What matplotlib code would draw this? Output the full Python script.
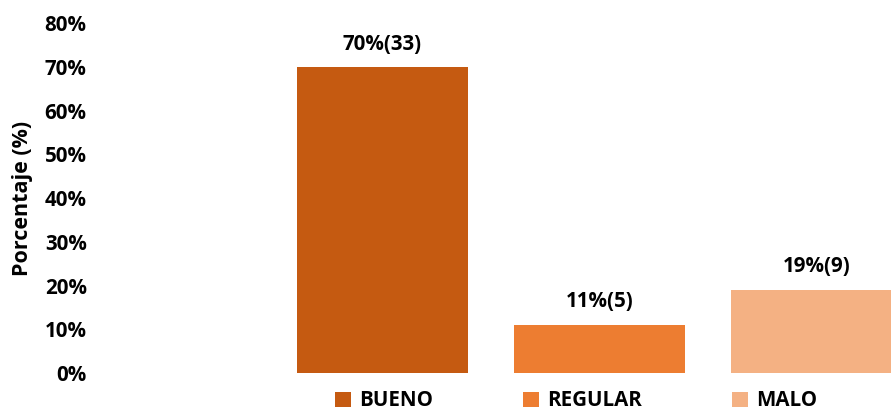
import matplotlib
matplotlib.use("Agg")
import matplotlib.pyplot as plt
from matplotlib.patches import Patch
from matplotlib.ticker import PercentFormatter

categories = ["BUENO", "REGULAR", "MALO"]
percentages = [0.70, 0.11, 0.19]
counts = [33, 5, 9]
colors = ["#C55A11", "#ED7D31", "#F4B183"]
yticks = [0, 0.1, 0.2, 0.3, 0.4, 0.5, 0.6, 0.7, 0.8]

plt.rcParams['font.family'] = ['Open Sans', 'DejaVu Sans']
plt.rcParams['font.weight'] = 'bold'
FS = 14.8

W, H = 891, 412
fig = plt.figure(figsize=(W / 100, H / 100), dpi=100)
left_px, right_px = 95, 891
bottom_px, top_px = 373, 23.3
ax = fig.add_axes([left_px / W, 1 - bottom_px / H, (right_px - left_px) / W, (bottom_px - top_px) / H])

spacing = 217.0
center0 = 382.5
x = list(range(len(categories)))
bars = ax.bar(x, percentages, width=171 / spacing, color=colors)
ax.set_xlim((left_px - center0) / spacing, (right_px - center0) / spacing)
ax.set_ylim(0, 0.8)
ax.set_yticks(yticks)
ax.yaxis.set_major_formatter(PercentFormatter(1.0, decimals=0))
ax.tick_params(axis='y', length=0, pad=6, labelsize=FS)
ax.set_xticks([])
for s in ax.spines.values():
    s.set_visible(False)
for lab in ax.get_yticklabels():
    lab.set_fontweight('bold')

for xi, p, c in zip(x, percentages, counts):
    ax.annotate(f"{round(p * 100)}%({c})", (xi, p), xytext=(0, 9), textcoords='offset points',
                ha='center', va='bottom', fontsize=FS, fontweight='bold')

fig.text(23 / W, 1 - 198 / H, "Porcentaje (%)", rotation=90, ha='center', va='center',
         fontsize=15.5, fontweight='bold')

handles = [Patch(facecolor=c, edgecolor='none') for c in colors]
leg = fig.legend(handles, categories, ncol=3, loc='center', bbox_to_anchor=(576 / W, 1 - 401 / H),
                 frameon=False, handlelength=0.75, handleheight=0.75,
                 handletextpad=0.4, columnspacing=4.4, prop={'weight': 'bold', 'size': FS})

fig.savefig("out.png", dpi=100)
